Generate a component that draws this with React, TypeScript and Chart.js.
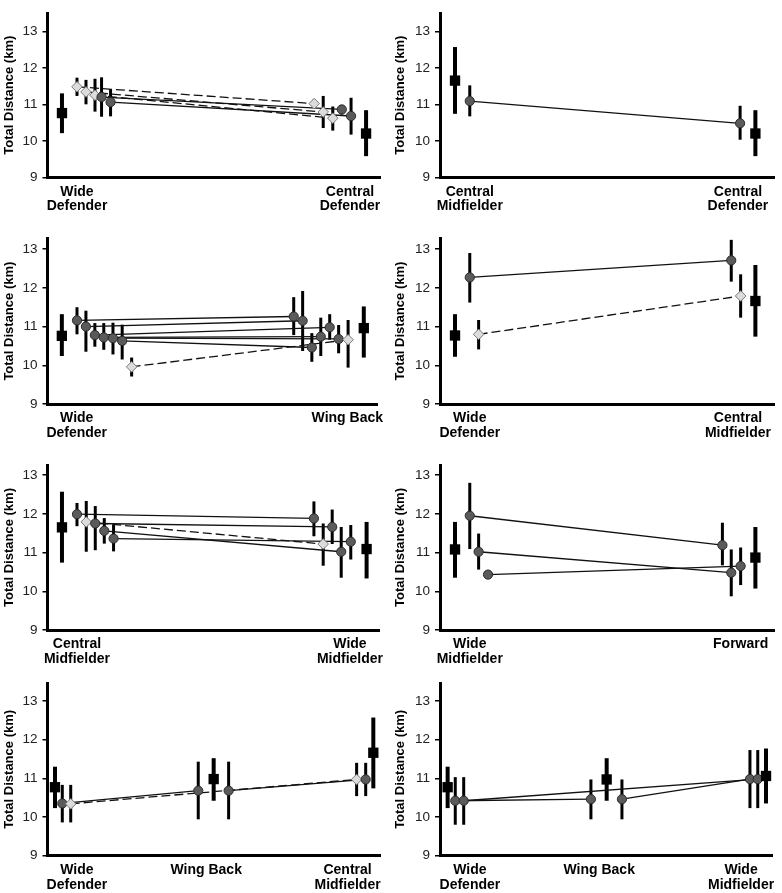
import React, { useEffect, useRef } from "react";
import { Chart, registerables } from "chart.js";
Chart.register(...registerables);

const FONT = "'Liberation Sans', Arial, Helvetica, sans-serif";
const Y_TICKS = [9, 10, 11, 12, 13];
const Y_TITLE = "Total Distance (km)";

// Panel 1: Wide Defender -> Central Defender
const p1Cats = [["Wide", "Defender"], ["Central", "Defender"]];
const p1CatPos = [0, 1];
const p1Kind = ["sq", "d", "d", "d", "c", "c", "d", "d", "d", "c", "c", "sq"];
const p1X = [-0.055, 0, 0.033, 0.066, 0.09, 0.123, 0.869, 0.902, 0.937, 0.97, 1.004, 1.059];
const p1Y = [10.76, 11.48, 11.34, 11.25, 11.2, 11.06, 11.02, 10.79, 10.62, 10.86, 10.68, 10.2];
const p1Lo = [10.21, 11.23, 11.0, 10.8, 10.66, 10.67, 10.9, 10.35, 10.28, 10.72, 10.17, 9.58];
const p1Hi = [11.3, 11.73, 11.67, 11.7, 11.74, 11.42, 11.14, 11.23, 10.94, 10.98, 11.18, 10.84];
const p1Links = [[1, 6, 1], [2, 7, 1], [3, 8, 1], [4, 9, 0], [5, 10, 0]];

// Panel 2: Central Midfielder -> Central Defender
const p2Cats = [["Central", "Midfielder"], ["Central", "Defender"]];
const p2CatPos = [0, 1];
const p2Kind = ["sq", "c", "c", "sq"];
const p2X = [-0.055, 0, 1.008, 1.065];
const p2Y = [11.65, 11.09, 10.48, 10.2];
const p2Lo = [10.74, 10.67, 10.03, 9.58];
const p2Hi = [12.57, 11.52, 10.96, 10.84];
const p2Links = [[1, 2, 0]];

// Panel 3: Wide Defender -> Wing Back
const p3Cats = [["Wide", "Defender"], ["Wing Back"]];
const p3CatPos = [0, 1];
const p3Kind = ["sq", "c", "c", "c", "c", "c", "c", "d", "c", "c", "c", "c", "c", "c", "d", "sq"];
const p3X = [-0.055, 0.001, 0.034, 0.067, 0.1, 0.134, 0.168, 0.203, 0.802, 0.835, 0.869, 0.902, 0.935, 0.968, 1.003, 1.061];
const p3Y = [10.76, 11.16, 11.0, 10.78, 10.72, 10.7, 10.63, 9.96, 11.26, 11.15, 10.46, 10.74, 10.98, 10.68, 10.66, 10.96];
const p3Lo = [10.24, 10.8, 10.35, 10.48, 10.4, 10.28, 10.15, 9.71, 10.78, 10.37, 10.09, 10.24, 10.66, 10.31, 9.94, 10.2];
const p3Hi = [11.32, 11.5, 11.41, 11.09, 11.09, 11.1, 11.05, 10.2, 11.76, 11.92, 10.83, 11.23, 11.32, 11.04, 11.17, 11.52];
const p3Links = [[1, 8, 0], [2, 9, 0], [3, 12, 0], [4, 11, 0], [5, 13, 0], [6, 10, 0], [7, 14, 1]];

// Panel 4: Wide Defender -> Central Midfielder
const p4Cats = [["Wide", "Defender"], ["Central", "Midfielder"]];
const p4CatPos = [0, 1];
const p4Kind = ["sq", "c", "d", "c", "d", "sq"];
const p4X = [-0.055, 0, 0.033, 0.975, 1.01, 1.065];
const p4Y = [10.77, 12.27, 10.8, 12.71, 11.79, 11.66];
const p4Lo = [10.22, 11.62, 10.41, 12.16, 11.23, 10.74];
const p4Hi = [11.32, 12.9, 11.17, 13.24, 12.35, 12.59];
const p4Links = [[1, 3, 0], [2, 4, 1]];

// Panel 5: Central Midfielder -> Wide Midfielder
const p5Cats = [["Central", "Midfielder"], ["Wide", "Midfielder"]];
const p5CatPos = [0, 1];
const p5Kind = ["sq", "c", "d", "c", "c", "c", "c", "d", "c", "c", "c", "sq"];
const p5X = [-0.055, 0, 0.034, 0.067, 0.1, 0.134, 0.868, 0.902, 0.935, 0.968, 1.003, 1.061];
const p5Y = [11.65, 11.99, 11.79, 11.75, 11.56, 11.36, 11.88, 11.22, 11.66, 11.02, 11.28, 11.09];
const p5Lo = [10.74, 11.68, 11.02, 11.06, 11.23, 11.03, 11.42, 10.66, 11.22, 10.35, 10.82, 10.33];
const p5Hi = [12.57, 12.28, 12.33, 12.2, 11.89, 11.71, 12.32, 11.75, 12.11, 11.66, 11.71, 11.79];
const p5Links = [[1, 6, 0], [2, 7, 1], [3, 8, 0], [4, 9, 0], [5, 10, 0]];

// Panel 6: Wide Midfielder -> Forward
const p6Cats = [["Wide", "Midfielder"], ["Forward"]];
const p6CatPos = [0, 1.01];
const p6Kind = ["sq", "c", "c", "c", "c", "c", "c", "sq"];
const p6X = [-0.055, 0, 0.033, 0.068, 0.942, 0.975, 1.01, 1.065];
const p6Y = [11.08, 11.95, 11.02, 10.43, 11.19, 10.48, 10.65, 10.87];
const p6Lo = [10.35, 11.09, 10.56, 10.38, 10.67, 9.87, 10.16, 10.07];
const p6Hi = [11.79, 12.8, 11.49, 10.48, 11.77, 11.08, 11.13, 11.66];
const p6Links = [[1, 4, 0], [2, 5, 0], [3, 6, 0]];

// Panel 7: Wide Defender -> Wing Back -> Central Midfielder
const p7Cats = [["Wide", "Defender"], ["Wing Back"], ["Central", "Midfielder"]];
const p7CatPos = [0.138, 0.951, 1.84];
const p7Kind = ["sq", "c", "d", "c", "sq", "c", "d", "c", "sq"];
const p7X = [0, 0.046, 0.099, 0.901, 0.998, 1.092, 1.897, 1.954, 2.002];
const p7Y = [10.77, 10.35, 10.34, 10.68, 10.98, 10.68, 10.97, 10.97, 11.66];
const p7Lo = [10.23, 9.86, 9.86, 9.94, 10.42, 9.94, 10.54, 10.54, 10.74];
const p7Hi = [11.3, 10.83, 10.83, 11.43, 11.52, 11.43, 11.4, 11.4, 12.57];
const p7Links = [[1, 3, 0], [2, 6, 1], [5, 7, 0]];

// Panel 8: Wide Defender -> Wing Back -> Wide Midfielder
const p8Cats = [["Wide", "Defender"], ["Wing Back"], ["Wide", "Midfielder"]];
const p8CatPos = [0.14, 0.953, 1.845];
const p8Kind = ["sq", "c", "c", "c", "sq", "c", "c", "c", "sq"];
const p8X = [0, 0.048, 0.101, 0.901, 1.0, 1.096, 1.901, 1.95, 2.002];
const p8Y = [10.77, 10.42, 10.42, 10.46, 10.97, 10.46, 10.98, 10.98, 11.06];
const p8Lo = [10.23, 9.8, 9.8, 9.94, 10.42, 9.94, 10.23, 10.23, 10.35];
const p8Hi = [11.3, 11.03, 11.03, 10.97, 11.52, 10.97, 11.73, 11.73, 11.77];
const p8Links = [[1, 3, 0], [5, 6, 0], [2, 7, 0]];

const PANELS = [
  { cats: p1Cats, catPos: p1CatPos, kind: p1Kind, x: p1X, y: p1Y, lo: p1Lo, hi: p1Hi, links: p1Links },
  { cats: p2Cats, catPos: p2CatPos, kind: p2Kind, x: p2X, y: p2Y, lo: p2Lo, hi: p2Hi, links: p2Links },
  { cats: p3Cats, catPos: p3CatPos, kind: p3Kind, x: p3X, y: p3Y, lo: p3Lo, hi: p3Hi, links: p3Links },
  { cats: p4Cats, catPos: p4CatPos, kind: p4Kind, x: p4X, y: p4Y, lo: p4Lo, hi: p4Hi, links: p4Links },
  { cats: p5Cats, catPos: p5CatPos, kind: p5Kind, x: p5X, y: p5Y, lo: p5Lo, hi: p5Hi, links: p5Links },
  { cats: p6Cats, catPos: p6CatPos, kind: p6Kind, x: p6X, y: p6Y, lo: p6Lo, hi: p6Hi, links: p6Links },
  { cats: p7Cats, catPos: p7CatPos, kind: p7Kind, x: p7X, y: p7Y, lo: p7Lo, hi: p7Hi, links: p7Links },
  { cats: p8Cats, catPos: p8CatPos, kind: p8Kind, x: p8X, y: p8Y, lo: p8Lo, hi: p8Hi, links: p8Links },
];

// layout of each panel on the page (sizes / paddings / axis ranges)
const LAYOUT = [
  { left: 0, top: 0, w: 391, h: 225, yW: 47.5, padTop: 3.3, padRight: 11, xH: 47.7, xMin: -0.108, xMax: 1.11, yMax: 13.5 },
  { left: 391, top: 0, w: 391, h: 225, yW: 49, padTop: 3.3, padRight: 4, xH: 47.7, xMin: -0.111, xMax: 1.137, yMax: 13.5 },
  { left: 0, top: 225, w: 391, h: 225, yW: 47.5, padTop: 13.3, padRight: 11, xH: 46, xMin: -0.108, xMax: 1.11, yMax: 13.28 },
  { left: 391, top: 225, w: 391, h: 225, yW: 49, padTop: 13.3, padRight: 4, xH: 46, xMin: -0.111, xMax: 1.137, yMax: 13.28 },
  { left: 0, top: 450, w: 391, h: 220, yW: 47.5, padTop: 15, padRight: 11, xH: 40, xMin: -0.108, xMax: 1.11, yMax: 13.26 },
  { left: 391, top: 450, w: 391, h: 220, yW: 49, padTop: 15, padRight: 4, xH: 40, xMin: -0.111, xMax: 1.137, yMax: 13.26 },
  { left: 0, top: 670, w: 391, h: 223, yW: 47.5, padTop: 12.7, padRight: 11, xH: 37.3, xMin: -0.047, xMax: 2.044, yMax: 13.46 },
  { left: 391, top: 670, w: 391, h: 223, yW: 49, padTop: 12.7, padRight: 9.3, xH: 37.3, xMin: -0.048, xMax: 2.044, yMax: 13.46 },
];

const STYLE = {
  c: { style: "circle", r: 4.6, fill: "#5a5a5a", stroke: "#2a2a2a", bw: 1, ew: 3 },
  d: { style: "rectRot", r: 5.3, fill: "#dcdcdc", stroke: "#7a7a7a", bw: 1, ew: 3 },
  sq: { style: "rect", r: 7.3, fill: "#000000", stroke: "#000000", bw: 0, ew: 4 },
};

function Panel({ idx }: { idx: number }) {
  const ref = useRef<HTMLCanvasElement | null>(null);
  const p = PANELS[idx];
  const L = LAYOUT[idx];

  useEffect(() => {
    if (!ref.current) return;
    const kinds = p.kind as ("c" | "d" | "sq")[];
    const markers: any = {
      data: p.x.map((x, i) => ({ x, y: p.y[i] })),
      showLine: false,
      pointStyle: kinds.map((k) => STYLE[k].style),
      pointRadius: kinds.map((k) => STYLE[k].r),
      pointHoverRadius: kinds.map((k) => STYLE[k].r),
      pointBackgroundColor: kinds.map((k) => STYLE[k].fill),
      pointBorderColor: kinds.map((k) => STYLE[k].stroke),
      pointBorderWidth: kinds.map((k) => STYLE[k].bw),
      order: 0,
      clip: false,
    };
    const lines = p.links.map(([a, b, dashed]) => ({
      data: [
        { x: p.x[a], y: p.y[a] },
        { x: p.x[b], y: p.y[b] },
      ],
      showLine: true,
      borderColor: "#111111",
      borderWidth: 1.3,
      borderDash: dashed ? [9, 4] : [],
      pointRadius: 0,
      pointHoverRadius: 0,
      order: 1,
      clip: false,
    }));

    const errPlugin = {
      id: "errbars",
      beforeDatasetsDraw(chart: any) {
        const ctx = chart.ctx;
        const ys = chart.scales.y;
        const meta = chart.getDatasetMeta(0);
        meta.data.forEach((el: any, j: number) => {
          const k = kinds[j];
          ctx.save();
          ctx.strokeStyle = "#000";
          ctx.lineWidth = STYLE[k].ew;
          ctx.beginPath();
          ctx.moveTo(el.x, ys.getPixelForValue(p.lo[j]));
          ctx.lineTo(el.x, ys.getPixelForValue(p.hi[j]));
          ctx.stroke();
          ctx.restore();
        });
      },
    };

    const chart = new Chart(ref.current, {
      type: "scatter",
      data: { datasets: [markers, ...lines] },
      plugins: [errPlugin],
      options: {
        responsive: false,
        animation: false,
        devicePixelRatio: 1,
        events: [],
        layout: { padding: { top: L.padTop, right: L.padRight, left: 0, bottom: 0 } },
        plugins: { legend: { display: false }, tooltip: { enabled: false } },
        scales: {
          x: {
            type: "linear",
            min: L.xMin,
            max: L.xMax,
            afterBuildTicks: (axis: any) => {
              axis.ticks = p.catPos.map((v) => ({ value: v }));
            },
            afterFit: (s: any) => {
              s.height = L.xH;
            },
            ticks: {
              autoSkip: false,
              maxRotation: 0,
              minRotation: 0,
              padding: 7,
              color: "#000",
              font: { family: FONT, size: 14, weight: "bold", lineHeight: 1.05 },
              callback: (_v: any, i: number) => p.cats[i],
            },
            grid: { display: false, drawTicks: false },
            border: { display: true, color: "#000", width: 3 },
          },
          y: {
            type: "linear",
            min: 9,
            max: L.yMax,
            afterBuildTicks: (axis: any) => {
              axis.ticks = Y_TICKS.map((v) => ({ value: v }));
            },
            afterFit: (s: any) => {
              s.width = L.yW;
            },
            ticks: {
              padding: 5,
              color: "#222",
              font: { family: FONT, size: 13.5 },
              callback: (v: any) => String(v),
            },
            grid: {
              drawOnChartArea: false,
              drawTicks: true,
              tickLength: 5,
              color: "#000",
              lineWidth: 1.5,
            },
            border: { display: true, color: "#000", width: 3 },
            title: {
              display: true,
              text: Y_TITLE,
              color: "#000",
              font: { family: FONT, size: 13, weight: "bold" },
              padding: { top: 2, bottom: 0 },
            },
          },
        },
      } as any,
    });
    return () => chart.destroy();
  }, []);

  return (
    <canvas
      ref={ref}
      width={L.w}
      height={L.h}
      style={{ position: "absolute", left: L.left, top: L.top, width: L.w, height: L.h }}
    />
  );
}

export default function App() {
  return (
    <div style={{ position: "absolute", left: 0, top: 0, width: 782, height: 893, background: "#fff" }}>
      {PANELS.map((_, i) => (
        <Panel key={i} idx={i} />
      ))}
    </div>
  );
}
